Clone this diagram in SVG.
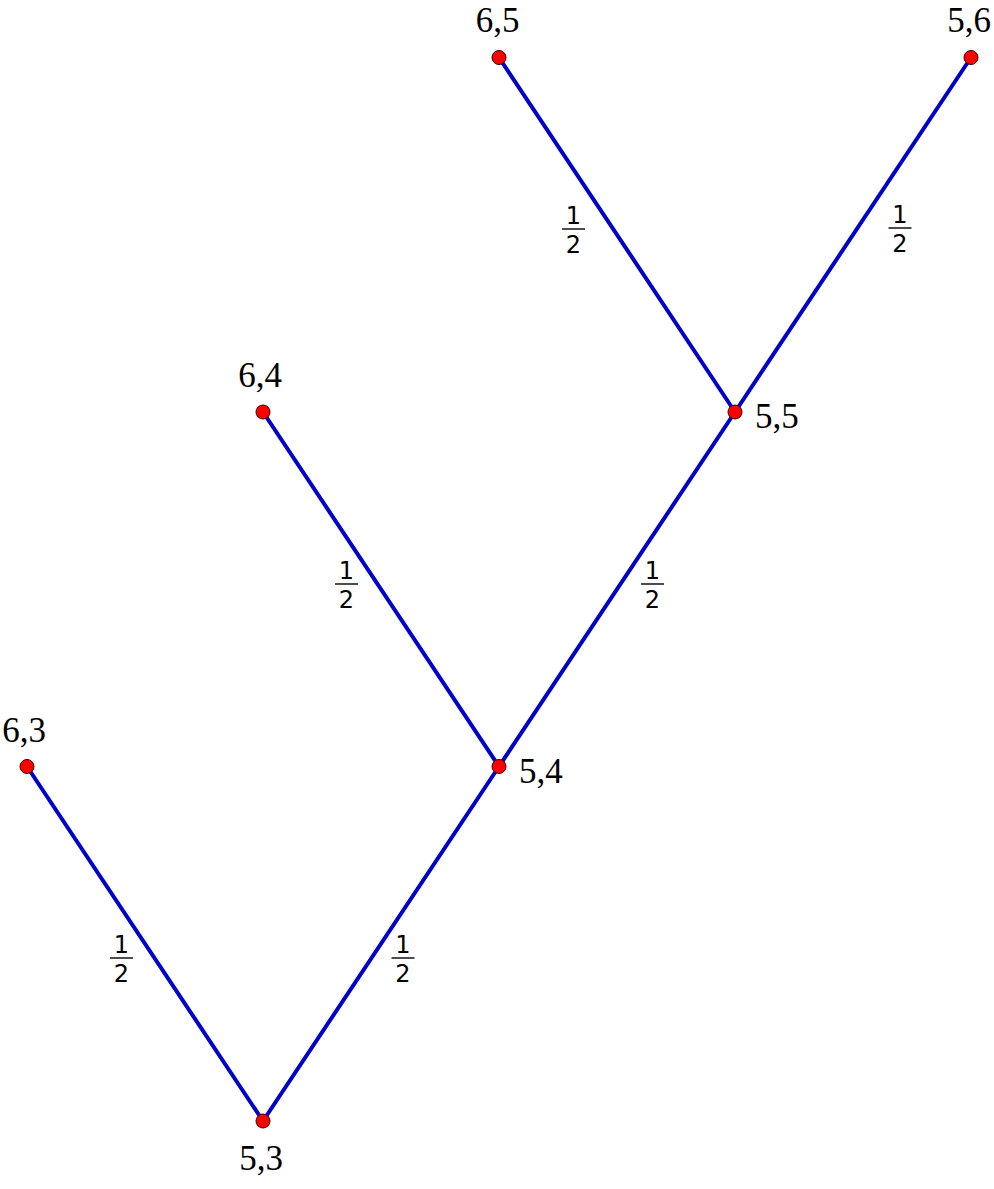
<svg xmlns="http://www.w3.org/2000/svg" width="994" height="1189" viewBox="0 0 994 1189">
<style>
.edge{stroke:#0000c8;stroke-width:4;stroke-linecap:round;fill:none}
.dot{fill:#ff0000;stroke:#3a0000;stroke-width:1}
.lbl{font-family:"Liberation Serif","Times New Roman",serif;font-size:35px;fill:#000}
.fr{font-family:"DejaVu Sans","Liberation Sans",sans-serif;font-size:24px;fill:#000;text-anchor:middle}
.bar{stroke:#000;stroke-width:1.4}
</style>
<rect width="994" height="1189" fill="#fff"/>
<g id="connectors">
<line class="edge" x1="499" y1="57.5" x2="735" y2="412"/>
<line class="edge" x1="971" y1="57.5" x2="735" y2="412"/>
<line class="edge" x1="263" y1="412" x2="499" y2="766.5"/>
<line class="edge" x1="735" y1="412" x2="499" y2="766.5"/>
<line class="edge" x1="27" y1="766.5" x2="263" y2="1121"/>
<line class="edge" x1="499" y1="766.5" x2="263" y2="1121"/>
<g id="w1"><text class="fr" x="573.5" y="224">1</text><line class="bar" x1="562" y1="229" x2="585" y2="229"/><text class="fr" x="573.5" y="252.5">2</text></g>
<g id="w2"><text class="fr" x="900" y="223">1</text><line class="bar" x1="888.5" y1="228" x2="911.5" y2="228"/><text class="fr" x="900" y="251.5">2</text></g>
<g id="w3"><text class="fr" x="346.5" y="579">1</text><line class="bar" x1="335" y1="584" x2="358" y2="584"/><text class="fr" x="346.5" y="607.5">2</text></g>
<g id="w4"><text class="fr" x="652.5" y="579">1</text><line class="bar" x1="641" y1="584" x2="664" y2="584"/><text class="fr" x="652.5" y="607.5">2</text></g>
<g id="w5"><text class="fr" x="121.5" y="953">1</text><line class="bar" x1="110" y1="958" x2="133" y2="958"/><text class="fr" x="121.5" y="981.5">2</text></g>
<g id="w6"><text class="fr" x="403" y="953">1</text><line class="bar" x1="391.5" y1="958" x2="414.5" y2="958"/><text class="fr" x="403" y="981.5">2</text></g>
</g>
<g id="n65"><circle class="dot" cx="499" cy="57.5" r="7"/><text class="lbl" x="497.5" y="32" text-anchor="middle">6,5</text></g>
<g id="n56"><circle class="dot" cx="971" cy="57.5" r="7"/><text class="lbl" x="969" y="32" text-anchor="middle">5,6</text></g>
<g id="n64"><circle class="dot" cx="263" cy="412" r="7"/><text class="lbl" x="260" y="387" text-anchor="middle">6,4</text></g>
<g id="n55"><circle class="dot" cx="735" cy="412" r="7"/><text class="lbl" x="755" y="428">5,5</text></g>
<g id="n63"><circle class="dot" cx="27" cy="766.5" r="7"/><text class="lbl" x="24" y="742" text-anchor="middle">6,3</text></g>
<g id="n54"><circle class="dot" cx="499" cy="766.5" r="7"/><text class="lbl" x="519" y="783">5,4</text></g>
<g id="n53"><circle class="dot" cx="263" cy="1121" r="7"/><text class="lbl" x="261" y="1170" text-anchor="middle">5,3</text></g>
</svg>
